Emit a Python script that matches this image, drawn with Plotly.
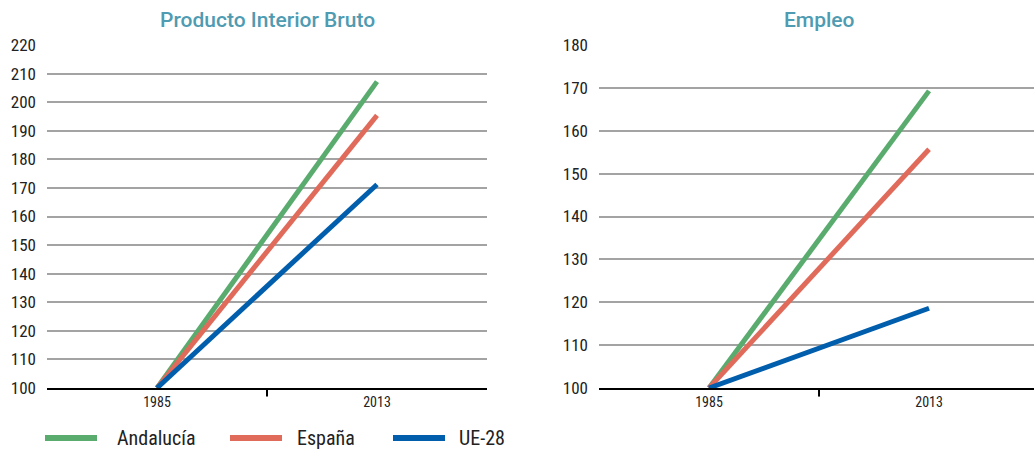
import plotly.graph_objects as go
from plotly.subplots import make_subplots

# --- datos ---
years = ["1985", "2013"]
series = ["Andalucía", "España", "UE-28"]
pib = {
    "Andalucía": [100, 207.2],
    "España": [100, 195.4],
    "UE-28": [100, 171.2],
}
empleo = {
    "Andalucía": [100, 169.3],
    "España": [100, 155.7],
    "UE-28": [100, 118.6],
}
colors = {"Andalucía": "#5aab6e", "España": "#e06b5b", "UE-28": "#005ead"}

FONT = "Liberation Sans Narrow, Roboto Condensed, Roboto, sans-serif"
TITLE_FONT = "Roboto, Noto Sans, sans-serif"
TITLE_COLOR = "#4f9bb2"

fig = make_subplots(rows=1, cols=2)

for name in series:
    fig.add_trace(go.Scatter(x=years, y=pib[name], mode="lines", name=name,
                             line=dict(color=colors[name], width=5), showlegend=False),
                  row=1, col=1)
    fig.add_trace(go.Scatter(x=years, y=empleo[name], mode="lines", name=name,
                             line=dict(color=colors[name], width=5), showlegend=False),
                  row=1, col=2)

L, R0 = 47, 599
W = 1034 - L
fig.update_layout(
    width=1034, height=450,
    margin=dict(l=L, r=0, t=45, b=62),
    plot_bgcolor="white", paper_bgcolor="white",
    font=dict(family=FONT, size=16, color="#222"),
    xaxis=dict(domain=[0, 440 / W], range=[-0.5, 1.5]),
    xaxis2=dict(domain=[(R0 - L) / W, 1], range=[-0.5, 1.477]),
    yaxis=dict(range=[100, 220], dtick=10),
    yaxis2=dict(range=[100, 180], dtick=10),
    hovermode=False,
)
fig.update_xaxes(type="category", showgrid=False, showline=True, linecolor="black",
                 linewidth=2, ticks="", tickfont=dict(size=14, color="#222"),
                 fixedrange=True)
fig.update_yaxes(showgrid=True, gridcolor="#a3a3a3", gridwidth=2, zeroline=False,
                 ticks="", ticklabelstandoff=10, tickfont=dict(size=17, color="#222"),
                 fixedrange=True)

# marca central del eje x
for xr, yr in [("x", "y domain"), ("x2", "y2 domain")]:
    fig.add_shape(type="line", xref=xr, yref=yr, x0=0.5, x1=0.5, y0=0, y1=-0.025,
                  line=dict(color="black", width=2))

# titulos
for txt, xc in [("Producto Interior Bruto", 267), ("Empleo", 819)]:
    fig.add_annotation(text=txt, xref="paper", yref="paper", x=(xc - L) / W,
                       y=1 + (45 - 20) / 343, xanchor="center", yanchor="middle",
                       showarrow=False,
                       font=dict(family=TITLE_FONT, size=21, color=TITLE_COLOR, weight=500))

# leyenda
leg_pos = [(45, 115), (230, 295), (393, 457)]
yl = -(438 - 388) / 343
for name, (x0, xt) in zip(series, leg_pos):
    fig.add_shape(type="line", xref="paper", yref="paper",
                  x0=(x0 - L) / W, x1=(x0 + 52 - L) / W, y0=yl, y1=yl,
                  line=dict(color=colors[name], width=6))
    fig.add_annotation(text=name, xref="paper", yref="paper", x=(xt - L) / W, y=yl,
                       xanchor="left", yanchor="middle", showarrow=False,
                       font=dict(size=20, color="#222"))

fig.write_html("out.html", config={"displayModeBar": False},
               post_script="document.body.style.margin='0';")
